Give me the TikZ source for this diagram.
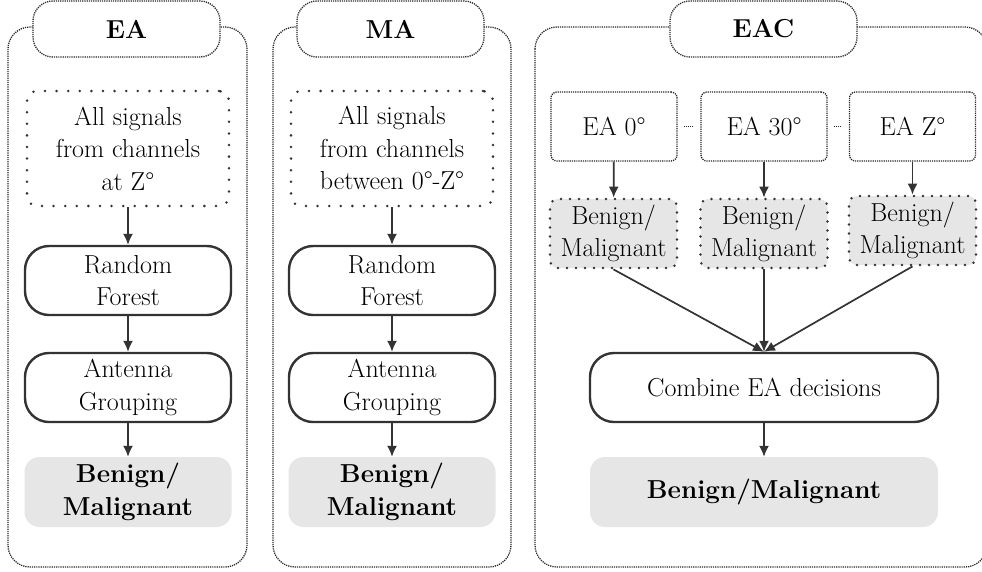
\documentclass[tikz,border=0pt]{standalone}
\usetikzlibrary{arrows.meta}
\definecolor{ln}{HTML}{333333}
\definecolor{gr}{HTML}{E6E6E6}
\begin{document}
\begin{tikzpicture}[x=1pt,y=-1pt,
  every node/.style={font=\fontsize{26}{32.5}\selectfont, inner sep=0pt, align=center},
  panel/.style={draw=black!85, line width=1.3pt, dash pattern=on 1.2pt off 1pt, rounded corners=22pt},
  titlebox/.style={draw=black!85, fill=white, line width=1.3pt, dash pattern=on 1.2pt off 1pt, rounded corners=20pt,
     minimum width=187pt, minimum height=56pt, font=\fontsize{26}{32.5}\selectfont\bfseries},
  inbox/.style={draw=ln, line width=2.8pt, line cap=round, dash pattern=on 0pt off 11.6pt, rounded corners=10pt,
     minimum width=202pt, minimum height=115pt},
  proc/.style={draw=ln, line width=2.4pt, rounded corners=24pt, minimum width=206pt, minimum height=69pt},
  result/.style={fill=gr, rounded corners=15pt, minimum width=207pt, minimum height=70pt,
     font=\fontsize{26}{32.5}\selectfont\bfseries},
  eabox/.style={draw=black!85, line width=1.3pt, dash pattern=on 1.2pt off 1pt, rounded corners=6pt,
     minimum width=126pt, minimum height=69pt},
  bmbox/.style={fill=gr, draw=ln, line width=2.8pt, line cap=round, dash pattern=on 0pt off 9pt, rounded corners=8pt,
     minimum width=127pt, minimum height=69pt},
  arr/.style={draw=ln, line width=1.7pt, -{Latex[length=11pt,width=10pt]}},
  dotlink/.style={draw=black!85, line width=1.3pt, dash pattern=on 1.2pt off 1pt, shorten <=6pt, shorten >=7pt}
]
\useasboundingbox (0,0) rectangle (982,571);

% ---------- EA panel ----------
\draw[panel] (8,27) rectangle (247,567);
\node[titlebox] (tEA) at (126.5,29) {EA};
\node[inbox] (inEA) at (128,148.5) {All signals\\from channels\\at Z°};
\node[proc] (rfEA) at (128,280.5) {Random\\Forest};
\node[proc] (agEA) at (128,387.5) {Antenna\\Grouping};
\node[result] (resEA) at (128,492) {Benign/\\Malignant};
\draw[arr] (inEA) -- (rfEA);
\draw[arr] (rfEA) -- (agEA);
\draw[arr] (agEA) -- (resEA);

% ---------- MA panel ----------
\draw[panel] (273,27) rectangle (511,567);
\node[titlebox] (tMA) at (390.5,29) {MA};
\node[inbox] (inMA) at (392,148.5) {All signals\\from channels\\between 0°-Z°};
\node[proc] (rfMA) at (392,280.5) {Random\\Forest};
\node[proc] (agMA) at (392,387.5) {Antenna\\Grouping};
\node[result] (resMA) at (392,492) {Benign/\\Malignant};
\draw[arr] (inMA) -- (rfMA);
\draw[arr] (rfMA) -- (agMA);
\draw[arr] (agMA) -- (resMA);

% ---------- EAC panel ----------
\draw[panel] (535,27) rectangle (987,567);
\node[titlebox] (tEAC) at (763.5,29) {EAC};
\node[eabox] (ea0) at (614,126.5) {EA 0°};
\node[eabox] (ea30) at (764,126.5) {EA 30°};
\node[eabox] (eaz) at (912.5,126.5) {EA Z°};
\draw[dotlink] (ea0) -- (ea30);
\draw[dotlink] (ea30) -- (eaz);
\node[bmbox] (bm1) at (613.5,233.5) {Benign/\\Malignant};
\node[bmbox] (bm2) at (764,233.5) {Benign/\\Malignant};
\node[bmbox] (bm3) at (912.5,230.5) {Benign/\\Malignant};
\draw[arr] (ea0) -- (bm1);
\draw[arr] (ea30) -- (bm2);
\draw[arr] (eaz) -- (bm3);
\node[proc, minimum width=348pt] (comb) at (764,387.5) {Combine EA decisions};
\draw[arr] (bm1.south) -- (comb.north);
\draw[arr] (bm2.south) -- (comb.north);
\draw[arr] (bm3.south) -- (comb.north);
\node[result, minimum width=348pt] (resEAC) at (764,492) {Benign/Malignant};
\draw[arr] (comb) -- (resEAC);
\end{tikzpicture}
\end{document}
